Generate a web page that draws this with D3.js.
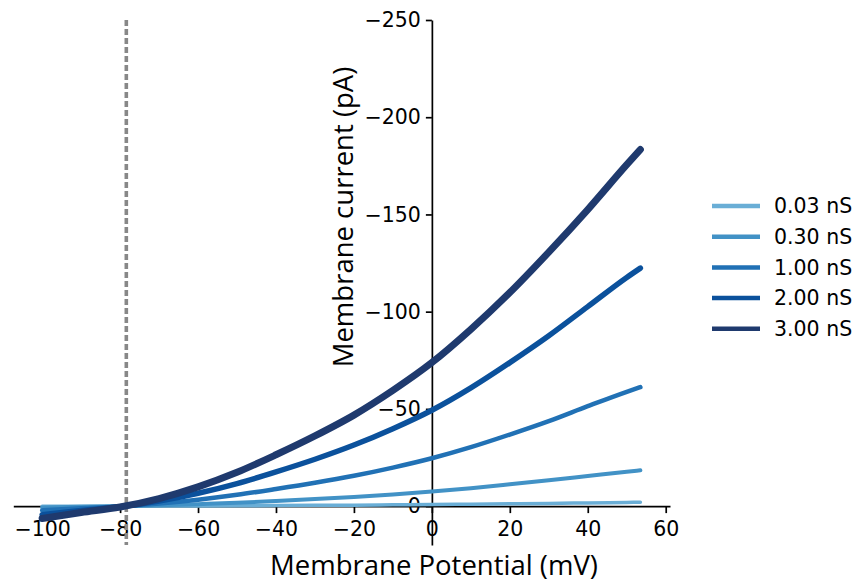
<!DOCTYPE html>
<html>
<head>
<meta charset="utf-8">
<script src="https://cdnjs.cloudflare.com/ajax/libs/d3/7.8.5/d3.min.js"></script>
<style>
  body { margin: 0; background: #fff; }
  svg { display: block; }
  .tick text { font-family: "DejaVu Sans", sans-serif; font-size: 20.5px; fill: #000; }
  .tick line, .domain { stroke: #000; stroke-width: 1.7px; }
</style>
</head>
<body>
<svg id="chart" width="857" height="582"></svg>
<script>
// membrane potential samples (mV)
var volts = [-100, -90, -80, -70, -60, -50, -40, -30, -20, -10, 0, 10, 20, 30, 40, 50, 53.5];

// membrane current (pA) per conductance
var cur003 = [0.07, 0.03, 0.0, -0.04, -0.1, -0.2, -0.3, -0.4, -0.5, -0.65, -0.8, -1.0, -1.2, -1.4, -1.65, -1.9, -2.0];
var cur030 = [0.7, 0.35, 0.05, -0.4, -1.0, -1.7, -2.6, -3.6, -4.7, -6.0, -7.5, -9.2, -11.2, -13.3, -15.5, -17.7, -18.4];
var cur100 = [2.2, 1.1, 0.15, -1.3, -3.3, -5.8, -8.8, -12.0, -15.6, -19.8, -24.6, -30.3, -36.8, -43.7, -51.4, -58.8, -61.2];
var cur200 = [4.4, 2.2, 0.3, -2.6, -6.6, -11.6, -17.6, -24.1, -31.4, -39.8, -49.3, -60.8, -73.8, -87.6, -102.6, -117.6, -122.4];
var cur300 = [6.4, 3.3, 0.45, -3.9, -9.9, -17.4, -26.4, -36.1, -46.8, -59.5, -73.8, -90.9, -109.8, -130.6, -152.5, -175.6, -183.4];

var series = [cur003, cur030, cur100, cur200, cur300];
var labels = ["0.03 nS", "0.30 nS", "1.00 nS", "2.00 nS", "3.00 nS"];
var colors = ["#6aaed6", "#4292c6", "#2171b5", "#0b519c", "#1f3a6e"];
var widths = [3.5, 4, 4.5, 5.5, 7];

var xTicks = [-100, -80, -60, -40, -20, 0, 20, 40, 60];
var yTicks = [0, -50, -100, -150, -200, -250];
var reversal = -78.4;

var svg = d3.select("#chart");

var x = d3.scaleLinear().domain([-107.4, 61.1]).range([13.3, 670]);
var y = d3.scaleLinear().domain([20, -250]).range([545, 20]);

var fmt = function(d) { return d3.format("d")(d).replace("-", "\u2212"); };

svg.append("g")
    .attr("transform", "translate(0," + y(0) + ")")
    .call(d3.axisBottom(x).tickValues(xTicks).tickSize(7).tickSizeOuter(0).tickPadding(8.5).tickFormat(fmt));

svg.append("g")
    .attr("transform", "translate(" + x(0) + ",0)")
    .call(d3.axisLeft(y).tickValues(yTicks).tickSize(6).tickSizeOuter(0).tickPadding(5).tickFormat(fmt));

// reversal potential marker
svg.append("line")
    .attr("x1", x(reversal)).attr("x2", x(reversal))
    .attr("y1", y(-250)).attr("y2", y(20))
    .attr("stroke", "#888888")
    .attr("stroke-width", 3.6)
    .attr("stroke-dasharray", "6,3");

var line = d3.line()
    .x(function(d) { return x(d[0]); })
    .y(function(d) { return y(d[1]); })
    .curve(d3.curveMonotoneX);

svg.append("g").selectAll("path")
    .data(series)
    .enter().append("path")
    .attr("d", function(s) { return line(volts.map(function(v, i) { return [v, s[i]]; })); })
    .attr("fill", "none")
    .attr("stroke", function(d, i) { return colors[i]; })
    .attr("stroke-width", function(d, i) { return widths[i]; })
    .attr("stroke-linecap", "round");

// legend
var legend = svg.append("g").attr("transform", "translate(712,206)");
var rows = legend.selectAll("g")
    .data(labels)
    .enter().append("g")
    .attr("transform", function(d, i) { return "translate(0," + (i * 30.7) + ")"; });
rows.append("line")
    .attr("x1", 0).attr("x2", 48)
    .attr("stroke", function(d, i) { return colors[i]; })
    .attr("stroke-width", 4.5);
rows.append("text")
    .attr("x", 62)
    .attr("dy", "0.36em")
    .style("font-family", "DejaVu Sans, sans-serif")
    .style("font-size", "20.5px")
    .text(function(d) { return d; });

// axis titles
svg.append("text")
    .attr("x", 434).attr("y", 575)
    .attr("text-anchor", "middle")
    .style("font-family", "Open Sans, sans-serif")
    .style("font-size", "27.5px")
    .text("Membrane Potential (mV)");

svg.append("text")
    .attr("transform", "translate(353,217) rotate(-90)")
    .attr("text-anchor", "middle")
    .style("font-family", "Open Sans, sans-serif")
    .style("font-size", "27.5px")
    .text("Membrane current (pA)");
</script>
</body>
</html>
